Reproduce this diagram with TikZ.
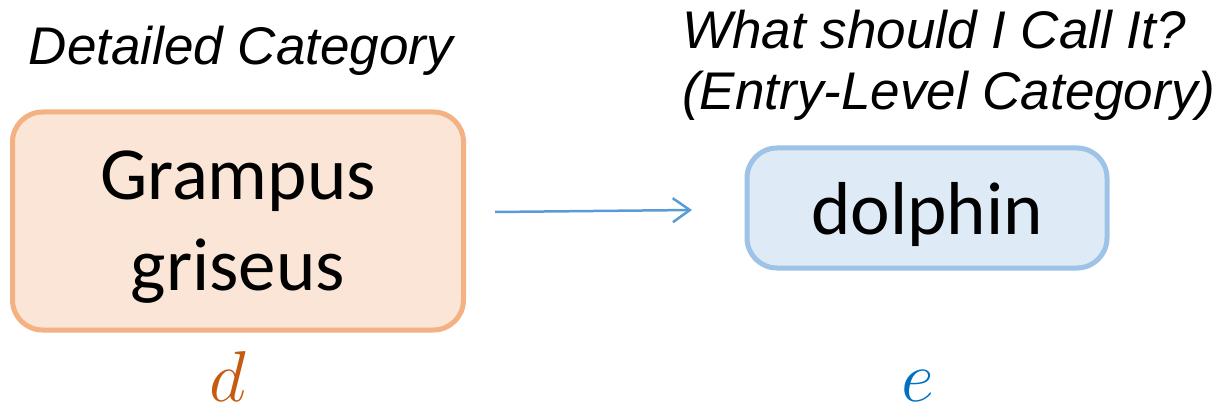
\documentclass[tikz,border=0pt]{standalone}
\usepackage{fix-cm}
\usepackage{fontspec}
\setmainfont{Carlito}
\newfontfamily\labelfont{Liberation Sans}
\usepackage{xcolor,tikz}
\usetikzlibrary{arrows.meta,positioning}

\definecolor{detfill}{HTML}{FBE5D6}
\definecolor{detline}{HTML}{F4B183}
\definecolor{entfill}{HTML}{DEEBF7}
\definecolor{entline}{HTML}{9DC3E6}
\definecolor{flowcol}{HTML}{5B9BD5}
\definecolor{dcol}{HTML}{C55A11}
\definecolor{ecol}{HTML}{0070C0}

\begin{document}
\begin{tikzpicture}[x=1pt,y=-1pt,
  catbox/.style={draw,line width=5pt,rounded corners=30pt,align=center,inner sep=0pt,text depth=0pt,font=\fontsize{75}{91}\selectfont},
  caption/.style={inner sep=0pt,align=left,font=\labelfont\itshape\fontsize{53}{61}\selectfont},
  var/.style={inner sep=0pt,font=\fontsize{72}{72}\selectfont},
  flow/.style={-{Straight Barb[length=17pt,width=24pt]},line width=2.5pt,draw=flowcol}]
\useasboundingbox (0,0) rectangle (1221,414);
% category boxes
\node[catbox,fill=detfill,draw=detline,minimum width=451pt,minimum height=218pt] (det) at (238,221) {Grampus\\griseus};
\node[catbox,fill=entfill,draw=entline,minimum width=360pt,minimum height=120pt] (ent) at (927,208) {dolphin};
% headings
\node[caption,anchor=base] (dethead) at (241,65) {Detailed Category};
\node[caption,anchor=north west] (enthead) at (682,10) {What should I Call It?\\(Entry-Level Category)};
% variables
\node[var,anchor=base,text=dcol] (dvar) at (228,401) {$d$};
\node[var,anchor=base,text=ecol] (evar) at (918,401) {$e$};
% mapping arrow
\coordinate (from) at (495,212);
\coordinate (to) at (692,210);
\draw[flow] (from)--(to);
\end{tikzpicture}
\end{document}
